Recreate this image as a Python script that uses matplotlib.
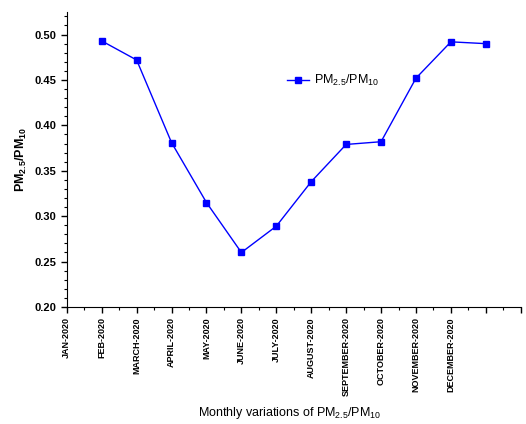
import matplotlib.pyplot as plt
from matplotlib.ticker import MultipleLocator

# valores mensuales del cociente PM2.5/PM10
months = ['JAN-2020', 'FEB-2020', 'MARCH-2020', 'APRIL-2020', 'MAY-2020',
          'JUNE-2020', 'JULY-2020', 'AUGUST-2020', 'SEPTEMBER-2020',
          'OCTOBER-2020', 'NOVEMBER-2020', 'DECEMBER-2020']
ratio = [0.493, 0.472, 0.381, 0.315, 0.260, 0.289, 0.338, 0.379, 0.382,
         0.452, 0.492, 0.490]

plt.rcParams['font.family'] = ['Liberation Sans', 'DejaVu Sans']
plt.rcParams['mathtext.fontset'] = 'custom'
plt.rcParams['mathtext.rm'] = 'Liberation Sans'
plt.rcParams['mathtext.bf'] = 'Liberation Sans:bold'

fig = plt.figure(figsize=(5.26, 4.24), dpi=100)
ax = fig.add_axes([0.127, 0.276, 0.863, 0.696])

xs = list(range(1, len(ratio) + 1))
ax.plot(xs, ratio, color='#0000ff', lw=1, marker='s', ms=4.5,
        label='PM$_{2.5}$/PM$_{10}$')

ax.set_xlim(0, 13)
ax.set_ylim(0.20, 0.525)
ax.xaxis.set_minor_locator(MultipleLocator(0.5))
ax.yaxis.set_minor_locator(MultipleLocator(0.01))
ax.set_xticks(range(14))
ax.set_xticklabels(months + ['', ''], rotation=90, fontsize=6.5,
                   fontweight='bold')
ax.set_yticks([0.20, 0.25, 0.30, 0.35, 0.40, 0.45, 0.50])
ax.set_yticklabels([f"{v:.2f}" for v in ax.get_yticks()], fontsize=8,
                   fontweight='bold')

ax.tick_params(which='major', direction='out', length=4, width=1)
ax.tick_params(which='minor', direction='out', length=2, width=0.8)
ax.spines['top'].set_visible(False)
ax.spines['right'].set_visible(False)

ax.set_ylabel(r'PM$_{\mathbf{2.5}}$/PM$_{\mathbf{10}}$', fontsize=9,
              fontweight='bold', labelpad=4)
fig.text(0.55, 0.02, 'Monthly variations of PM$_{2.5}$/PM$_{10}$',
         ha='center', fontsize=9)

ax.legend(loc='upper left', bbox_to_anchor=(0.46, 0.83), frameon=False,
          fontsize=9, handlelength=1.8, handletextpad=0.4)

fig.savefig('out.png', dpi=100)
